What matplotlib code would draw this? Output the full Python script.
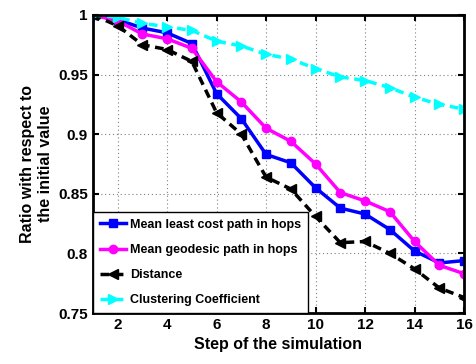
import numpy as np
import matplotlib.pyplot as plt

plt.rcParams.update({'font.size': 10, 'font.weight': 'bold', 'font.family': 'Liberation Sans'})

steps = np.arange(1, 17)
least_cost = [1.0, 0.996, 0.989, 0.985, 0.976, 0.934, 0.913, 0.883, 0.876, 0.855,
              0.838, 0.833, 0.820, 0.802, 0.792, 0.794]
geodesic = [1.0, 0.995, 0.984, 0.980, 0.972, 0.944, 0.927, 0.905, 0.894, 0.875,
            0.851, 0.844, 0.835, 0.810, 0.790, 0.783]
distance = [1.0, 0.991, 0.975, 0.971, 0.961, 0.918, 0.900, 0.864, 0.854, 0.831,
            0.809, 0.810, 0.800, 0.787, 0.771, 0.763]
clustering = [1.0, 0.998, 0.993, 0.990, 0.987, 0.978, 0.974, 0.967, 0.963, 0.955,
              0.948, 0.945, 0.939, 0.931, 0.925, 0.921]

fig = plt.figure(figsize=(4.76, 3.64), dpi=100)
ax = fig.add_axes([0.195, 0.14, 0.78, 0.819])

ax.plot(steps, least_cost, color='b', marker='s', ms=6, lw=2.5, label='Mean least cost path in hops')
ax.plot(steps, geodesic, color='magenta', marker='o', ms=6, lw=2.5, label='Mean geodesic path in hops')
ax.plot(steps, distance, color='k', ls='--', dashes=(2.5, 1.6), marker='<', ms=7, lw=2.5, label='Distance')
ax.plot(steps, clustering, color='cyan', ls='--', dashes=(2.5, 1.6), marker='>', ms=7, lw=2.5,
        label='Clustering Coefficient')

ax.set_xlim(1, 16)
ax.set_ylim(0.75, 1.0)
ax.set_xticks([2, 4, 6, 8, 10, 12, 14, 16])
ax.set_yticks([0.75, 0.8, 0.85, 0.9, 0.95, 1.0])
ax.set_yticklabels(['0.75', '0.8', '0.85', '0.9', '0.95', '1'])
ax.grid(True, ls=(0, (1, 2.5)), color='gray', lw=0.8)
ax.tick_params(direction='in', top=True, right=True, length=4, width=1.5, labelsize=11)
for s in ax.spines.values():
    s.set_linewidth(2)

ax.set_xlabel('Step of the simulation', fontsize=11.5, fontweight='bold')
ax.set_ylabel('Ratio with respect to\nthe initial value', fontsize=11.5, fontweight='bold')

leg = ax.legend(loc='lower left', fontsize=9, fancybox=False, edgecolor='k',
                borderaxespad=0, handlelength=2.1, handletextpad=0.3,
                labelspacing=1.05, borderpad=0.55, framealpha=1)
leg.get_frame().set_linewidth(1)

fig.savefig('out.png', dpi=100)
